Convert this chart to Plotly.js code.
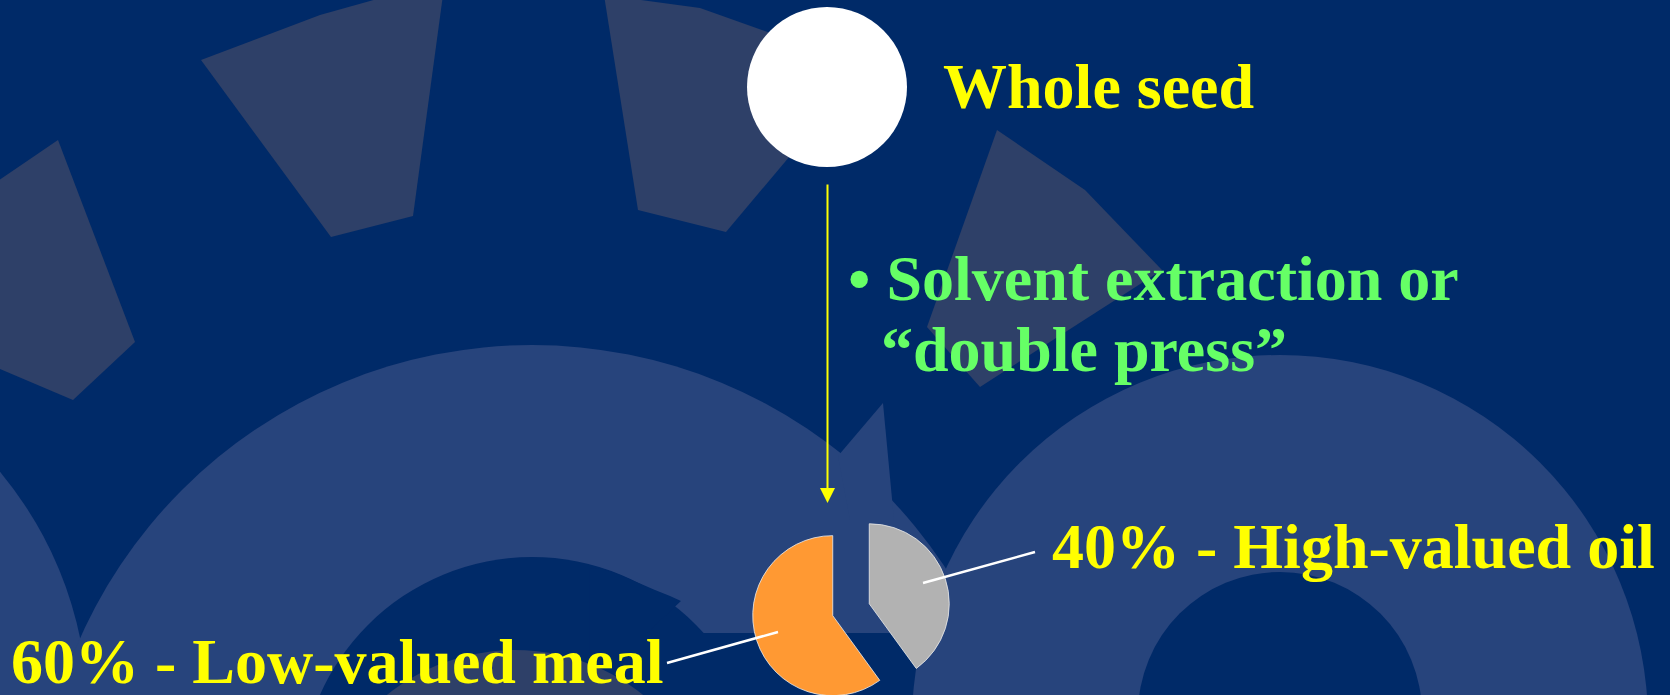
<!DOCTYPE html>
<html>
<head>
<meta charset="utf-8">
<script src="https://cdn.plot.ly/plotly-3.0.1.min.js"></script>
<style>
html, body { margin: 0; padding: 0; width: 1670px; height: 695px; overflow: hidden; background: #002A68; }
#chart { width: 1670px; height: 900px; }
</style>
</head>
<body>
<div id="chart"></div>
<script>
// ---- data ----
const sliceLabels = ['High-valued oil', 'Low-valued meal'];
const sliceValues = [40, 60];
const sliceColors = ['#B2B2B2', '#FF9933'];
const topLabel = 'Whole seed';
const processLines = ['\u2022 Solvent extraction or', '\u201Cdouble press\u201D'];

// ---- page geometry helpers (pixels -> paper) ----
const W = 1670, H = 900;
const px = x => x / W;
const py = y => 1 - y / H;
function poly(pts) {
  return 'M' + pts.map(p => px(p[0]).toFixed(5) + ',' + py(p[1]).toFixed(5)).join('L') + 'Z';
}
function ellipse(cx, cy, r, fill) {
  return { type: 'circle', xref: 'paper', yref: 'paper', layer: 'below',
    x0: px(cx - r), x1: px(cx + r), y0: py(cy + r), y1: py(cy - r),
    fillcolor: fill, line: { width: 0 } };
}
function pathShape(pts, fill) {
  return { type: 'path', xref: 'paper', yref: 'paper', layer: 'below',
    path: poly(pts), fillcolor: fill, line: { width: 0 } };
}

const BG = '#002A68', RING = '#27447C', TOOTH = '#2E4068';

const shapes = [
  // gear teeth
  pathShape([[201,60],[320,15],[445,-20],[413,216],[331,237]], TOOTH),
  pathShape([[604,-5],[700,8],[790,40],[795,150],[726,232],[638,210]], TOOTH),
  pathShape([[-5,183],[58,140],[135,342],[73,400],[-5,367]], TOOTH),
  pathShape([[997,130],[1085,190],[1162,270],[980,387],[927,327]], TOOTH),
  // left edge ring
  ellipse(-292, 715, 380, RING),
  // big G ring
  ellipse(532, 840, 495, RING),
  pathShape([[838,456],[883,403],[894,520],[850,520]], RING),
  ellipse(532, 789, 232, BG),
  pathShape([[590,569],[600,568],[620,575],[640,583.5],[655,590],[670,596],[681,601],[647,633],[930,633],[930,900],[590,900]], BG),
  ellipse(515, 855, 205, TOOTH),
  // right ring
  ellipse(1280, 723, 368, RING),
  ellipse(1280, 714, 142, BG),
  // whole seed circle
  { type: 'circle', xref: 'paper', yref: 'paper', layer: 'above',
    x0: px(747), x1: px(907), y0: py(167), y1: py(7), fillcolor: '#FFFFFF', line: { width: 0 } },
  // leader lines
  { type: 'line', xref: 'paper', yref: 'paper', layer: 'above',
    x0: px(923), y0: py(583), x1: px(1035), y1: py(552), line: { color: '#FFFFFF', width: 2.5 } },
  { type: 'line', xref: 'paper', yref: 'paper', layer: 'above',
    x0: px(778), y0: py(632), x1: px(667), y1: py(663), line: { color: '#FFFFFF', width: 2.5 } }
];

const serif = { family: 'Liberation Serif, Times New Roman, serif', size: 64, weight: 'bold' };
const yellow = Object.assign({}, serif, { color: '#FFFF00' });
const green = Object.assign({}, serif, { color: '#66FF66' });
const baseOff = 21.6; // baseline -> box middle

function textAnn(text, x, baseline, font) {
  return { text: text, xref: 'paper', yref: 'paper', x: px(x), y: py(baseline - baseOff),
    xanchor: 'left', yanchor: 'middle', showarrow: false, font: font };
}

const annotations = [
  textAnn(topLabel, 941, 108, yellow),
  textAnn(processLines[0], 846, 300, green),
  textAnn(processLines[1], 879, 371, green),
  textAnn(sliceValues[0] + '% - ' + sliceLabels[0], 1050, 568, yellow),
  textAnn(sliceValues[1] + '% - ' + sliceLabels[1], 9, 683, yellow),
  { text: '', xref: 'paper', yref: 'paper', x: px(827.5), y: py(503), ax: 0, ay: -320,
    showarrow: true, arrowhead: 2, arrowsize: 1.5, arrowwidth: 2, arrowcolor: '#FFFF00', standoff: 0 }
];

const pieCx = 851, pieCy = 609.7, pieHalf = 99.2;
const trace = {
  type: 'pie',
  labels: sliceLabels,
  values: sliceValues,
  marker: { colors: sliceColors, line: { color: 'rgba(235,235,235,0.8)', width: 1 } },
  pull: [0.24, 0.24],
  sort: false,
  direction: 'clockwise',
  rotation: 0,
  textinfo: 'none',
  hoverinfo: 'none',
  showlegend: false,
  domain: { x: [px(pieCx - pieHalf), px(pieCx + pieHalf)], y: [py(pieCy + pieHalf), py(pieCy - pieHalf)] }
};

const layout = {
  width: W, height: H,
  margin: { l: 0, r: 0, t: 0, b: 0 },
  paper_bgcolor: BG,
  plot_bgcolor: BG,
  showlegend: false,
  shapes: shapes,
  annotations: annotations
};

Plotly.newPlot('chart', [trace], layout, { displayModeBar: false, staticPlot: true });
</script>
</body>
</html>
